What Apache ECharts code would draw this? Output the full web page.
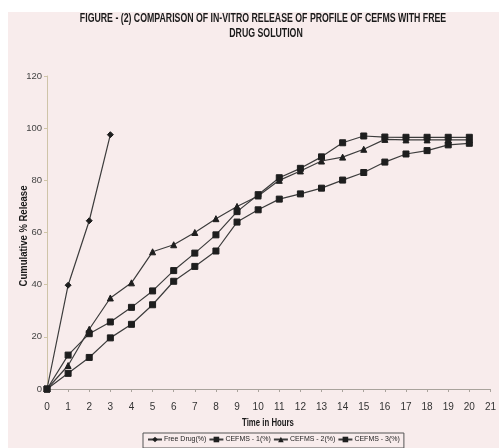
<!DOCTYPE html>
<html>
<head>
<meta charset="utf-8">
<script src="https://cdn.jsdelivr.net/npm/echarts@6/dist/echarts.min.js"></script>
<style>
html,body{margin:0;padding:0;background:#ffffff;}
#c{width:499px;height:448px;}
</style>
</head>
<body>
<div id="c"></div>
<script>
// ---- data ----
var hours = [0,1,2,3,4,5,6,7,8,9,10,11,12,13,14,15,16,17,18,19,20];
var freeDrugHours = [0,1,2,3];
var freeDrug = [0,39.8,64.5,97.5];
var cefms1 = [0,13,21.2,25.7,31.3,37.6,45.4,52.1,59.1,68,74.5,81,84.6,89,94.4,97,96.6,96.5,96.5,96.5,96.5];
var cefms2 = [0,9,22.9,34.9,40.7,52.6,55.3,60,65.3,70,74,80,83.6,87.4,88.9,91.9,95.7,95.5,95.5,95.5,95.5];
var cefms3 = [0,6,12.1,19.6,24.8,32.3,41.3,47,52.9,64,68.7,72.8,74.8,77,80.1,83,87,90.1,91.4,93.6,94.2];
var seriesNames = ['Free Drug(%)','CEFMS - 1(%)','CEFMS - 2(%)','CEFMS - 3(%)'];
var titleLine1 = 'FIGURE - (2) COMPARISON OF IN-VITRO RELEASE OF PROFILE OF CEFMS WITH FREE';
var titleLine2 = 'DRUG SOLUTION';
var xTitle = 'Time in Hours';
var yTitle = 'Cumulative % Release';

function pairs(xs, ys){ return ys.map(function(v,i){ return [xs[i], v]; }); }

var FONT = "'Liberation Sans',Arial,sans-serif";
var lineCol = '#3c3c3c';
var markCol = '#1e1e1e';
var pink = '#f8ecec';

var chart = echarts.init(document.getElementById('c'), null, {renderer:'canvas'});
function mk(name, data, symbol, size){
  return {
    name: name, type: 'line', data: data, symbol: symbol, symbolSize: size,
    lineStyle: {color: lineCol, width: 1.2},
    itemStyle: {color: markCol, borderColor: markCol},
    animation: false
  };
}
var titleFont = 'bold 12px ' + FONT;
chart.setOption({
  backgroundColor: '#ffffff',
  graphic: [
    {type:'rect', shape:{x:8,y:12,width:491,height:436}, style:{fill:pink}, z:-10, silent:true},
    {type:'text', x:263, y:19, scaleX:0.73, z:10, silent:true,
      style:{text:titleLine1, font:titleFont, fill:'#1a1a1a', textAlign:'center', textVerticalAlign:'middle'}},
    {type:'text', x:266, y:34, scaleX:0.73, z:10, silent:true,
      style:{text:titleLine2, font:titleFont, fill:'#1a1a1a', textAlign:'center', textVerticalAlign:'middle'}},
    {type:'text', x:268, y:423, scaleX:0.78, z:10, silent:true,
      style:{text:xTitle, font:'bold 10px ' + FONT, fill:'#1a1a1a', textAlign:'center', textVerticalAlign:'middle'}},
    {type:'text', x:24, y:236, rotation:Math.PI/2, scaleX:0.95, z:10, silent:true,
      style:{text:yTitle, font:'bold 10px ' + FONT, fill:'#1a1a1a', textAlign:'center', textVerticalAlign:'middle'}}
  ],
  grid: {left: 47, right: 8, top: 76, bottom: 59},
  xAxis: {
    type: 'value', min: 0, max: 21, interval: 1,
    axisLine: {lineStyle: {color: '#a9a39c', width: 1}},
    axisTick: {show: true, length: 3, lineStyle: {color: '#a9a39c'}},
    axisLabel: {fontFamily: FONT, fontSize: 10, color: '#333', margin: 13},
    splitLine: {show: false}
  },
  yAxis: {
    type: 'value', min: 0, max: 120, interval: 20,
    axisLine: {show: true, lineStyle: {color: '#cfc4a8', width: 1}},
    axisTick: {show: true, length: 3, lineStyle: {color: '#cfc4a8'}},
    axisLabel: {fontFamily: FONT, fontSize: 9.5, color: '#444', margin: 5},
    splitLine: {show: false}
  },
  legend: {
    data: seriesNames, left: 143, top: 433,
    itemWidth: 14, itemHeight: 7, itemGap: 2,
    backgroundColor: pink, borderColor: '#555', borderWidth: 1, padding: [3,4,5,4],
    textStyle: {fontFamily: FONT, fontSize: 7, color: '#222', padding: [0,0,0,-3]}
  },
  series: [
    mk(seriesNames[0], pairs(freeDrugHours, freeDrug), 'diamond', 6),
    mk(seriesNames[1], pairs(hours, cefms1), 'rect', 6),
    mk(seriesNames[2], pairs(hours, cefms2), 'triangle', 6),
    mk(seriesNames[3], pairs(hours, cefms3), 'rect', 6)
  ]
});
</script>
</body>
</html>
